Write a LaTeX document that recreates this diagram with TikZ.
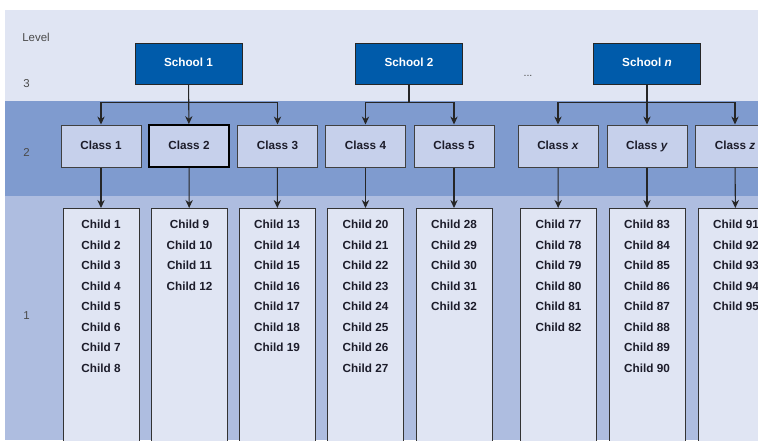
\documentclass[tikz,border=0pt]{standalone}
\usepackage{fontspec}
\setmainfont{Liberation Sans}
\usetikzlibrary{arrows.meta,calc}
\definecolor{bandthree}{HTML}{E0E5F3}
\definecolor{bandtwo}{HTML}{7F9BCF}
\definecolor{bandone}{HTML}{AEBDE0}
\definecolor{schoolblue}{HTML}{005BAA}
\definecolor{classfill}{HTML}{C6D0EB}
\definecolor{childfill}{HTML}{E0E5F3}
\definecolor{boxtext}{HTML}{1C1C2A}
\definecolor{levelgray}{HTML}{4A4A4A}

\begin{document}
\begin{tikzpicture}[x=0.75pt,y=0.75pt,yscale=-1,xscale=1,
  school/.style={draw=black!85, fill=schoolblue, text=white, font=\bfseries\fontsize{8.8}{10}\selectfont, text height=6.4pt, text depth=1.9pt, minimum width=80.25pt, minimum height=30.75pt, inner sep=0pt},
  klass/.style={draw=black!75, line width=0.75pt, fill=classfill, text=boxtext, font=\bfseries\fontsize{8.8}{10}\selectfont, text height=6.4pt, text depth=1.9pt, minimum width=60pt, minimum height=31.5pt, inner sep=0pt},
  childbox/.style={draw=black!80, line width=0.75pt, fill=childfill, minimum width=57pt, minimum height=177.75pt, anchor=north, inner sep=0pt},
  kids/.style={anchor=north, align=center, inner sep=0pt, text=boxtext, font=\bfseries\fontsize{8.8}{15.4}\selectfont},
  lvl/.style={anchor=west, inner sep=0pt, text=levelgray, font=\fontsize{8.6}{10}\selectfont},
  link/.style={draw=black!85, line width=0.8pt, -{Stealth[length=6pt,width=5.5pt]}},
  stem/.style={draw=black!85, line width=0.8pt}
]
\clip (0,0) rectangle (758,440);
\fill[white] (0,0) rectangle (758,440);
% level bands
\fill[bandthree] (5,10) rectangle (758,101);
\fill[bandtwo] (5,101) rectangle (758,196);
\fill[bandone] (5,196) rectangle (758,440);

\node[lvl] (lvtitle) at (22,37) {Level};
\node[lvl] (lv3) at (23,84) {3};
\node[lvl] (lv2) at (23,152) {2};
\node[lvl] (lv1) at (23,316) {1};

% schools
\node[school] (s1) at (188.5,63.5) {School 1};
\node[school] (s2) at (409,63.5) {School 2};
\node[school] (sn) at (647,63.5) {School \textit{n}};
\node[inner sep=0pt, text=black!70, font=\fontsize{8}{9}\selectfont] (dots) at (528,76) {...};

% classes
\node[klass] (k1) at (101,146) {Class 1};
\node[klass, draw=black, line width=1.3pt] (k2) at (189,146) {Class 2};
\node[klass] (k3) at (277.5,146) {Class 3};
\node[klass] (k4) at (365.5,146) {Class 4};
\node[klass] (k5) at (454,146) {Class 5};
\node[klass] (kx) at (558,146) {Class \textit{x}};
\node[klass] (ky) at (647,146) {Class \textit{y}};
\node[klass] (kz) at (735,146) {Class \textit{z}};

\coordinate (br) at (0,102.5);

\draw[stem] (s1.south) -- (s1.south |- br);
\draw[link] (s1.south |- br) -| (k1.north);
\draw[link] (s1.south |- br) -| (k3.north);
\draw[link] (s1) -- (k2);
\draw[stem] (s2.south) -- (s2.south |- br);
\draw[link] (s2.south |- br) -| (k4.north);
\draw[link] (s2.south |- br) -| (k5.north);
\draw[stem] (sn.south) -- (sn.south |- br);
\draw[link] (sn.south |- br) -| (kx.north);
\draw[link] (sn.south |- br) -| (kz.north);
\draw[link] (sn) -- (ky);

% children
\foreach \k/\cx in {1/101,2/189.5,3/277,4/365.5,5/454,x/558.5,y/647,z/736}{
  \node[childbox] (c\k) at (\cx,208) {};
  \draw[link] (k\k) -- (c\k);
}

\node[kids] (t1) at ($(c1.north)+(0,12)$) {Child 1\\Child 2\\Child 3\\Child 4\\Child 5\\Child 6\\Child 7\\Child 8};
\node[kids] (t2) at ($(c2.north)+(0,12)$) {Child 9\\Child 10\\Child 11\\Child 12};
\node[kids] (t3) at ($(c3.north)+(0,12)$) {Child 13\\Child 14\\Child 15\\Child 16\\Child 17\\Child 18\\Child 19};
\node[kids] (t4) at ($(c4.north)+(0,12)$) {Child 20\\Child 21\\Child 22\\Child 23\\Child 24\\Child 25\\Child 26\\Child 27};
\node[kids] (t5) at ($(c5.north)+(0,12)$) {Child 28\\Child 29\\Child 30\\Child 31\\Child 32};
\node[kids] (tx) at ($(cx.north)+(0,12)$) {Child 77\\Child 78\\Child 79\\Child 80\\Child 81\\Child 82};
\node[kids] (ty) at ($(cy.north)+(0,12)$) {Child 83\\Child 84\\Child 85\\Child 86\\Child 87\\Child 88\\Child 89\\Child 90};
\node[kids] (tz) at ($(cz.north)+(0,12)$) {Child 91\\Child 92\\Child 93\\Child 94\\Child 95};
\end{tikzpicture}
\end{document}
